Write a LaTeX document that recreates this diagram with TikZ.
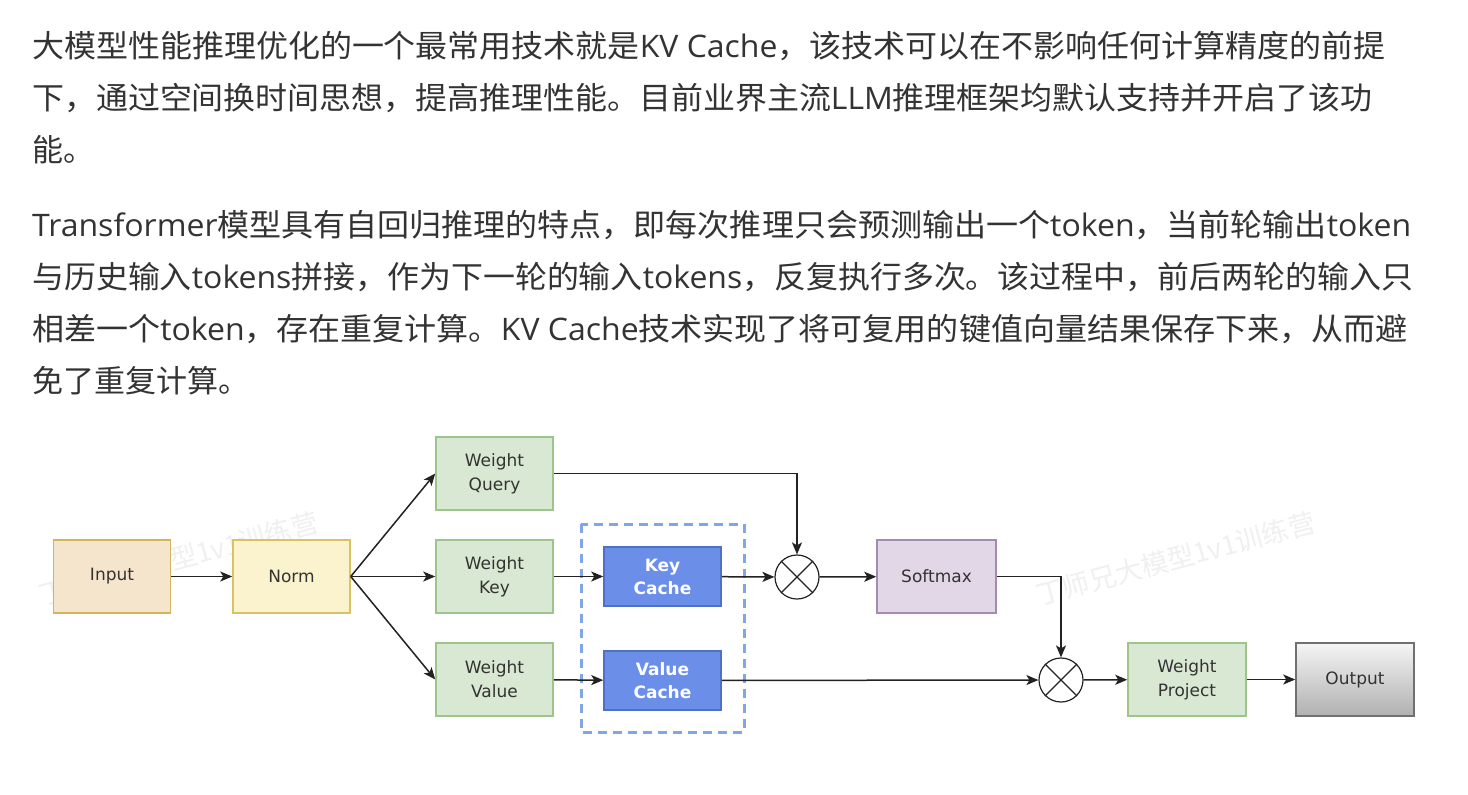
\documentclass[tikz,border=0pt]{standalone}
\usepackage{fontspec}
\usepackage{graphicx}
\setmainfont{Noto Sans CJK SC}
\newfontfamily\lat{Open Sans}
\newfontfamily\dv{DejaVu Sans}
\newfontfamily\wmfont{Noto Sans CJK SC}
\usetikzlibrary{arrows.meta}
\definecolor{txt}{HTML}{333333}
\definecolor{inFill}{HTML}{F5E5CD}
\definecolor{inDraw}{HTML}{D4B45A}
\definecolor{nmFill}{HTML}{FAF3CD}
\definecolor{nmDraw}{HTML}{D8C264}
\definecolor{gFill}{HTML}{D8E8D3}
\definecolor{gDraw}{HTML}{9DC48A}
\definecolor{bFill}{HTML}{6B8FE9}
\definecolor{bDraw}{HTML}{4F70C8}
\definecolor{dashC}{HTML}{7EA6E8}
\definecolor{pFill}{HTML}{E2D7E7}
\definecolor{pDraw}{HTML}{A58BB3}
\definecolor{oTop}{HTML}{F5F5F5}
\definecolor{oBot}{HTML}{B0B0B0}
\definecolor{oDraw}{HTML}{707070}
\definecolor{lineC}{HTML}{222222}
\begin{document}
\begin{tikzpicture}[x=1pt,y=-1pt,
  para/.style={anchor=base west, inner sep=0pt, text=txt, font=\fontsize{31}{31}\selectfont},
  box/.style={rectangle, line width=1.5pt, minimum width=117pt, minimum height=73pt, inner sep=0pt, align=center, text=txt, font=\dv\fontsize{17}{24}\selectfont},
  yel/.style={box, fill=inFill, draw=inDraw},
  nrm/.style={box, fill=nmFill, draw=nmDraw},
  grn/.style={box, fill=gFill, draw=gDraw},
  pur/.style={box, fill=pFill, draw=pDraw, minimum width=119pt},
  gry/.style={box, top color=oTop, bottom color=oBot, draw=oDraw, minimum width=118pt},
  cache/.style={box, fill=bFill, draw=bDraw, minimum height=59pt, text=white, font=\dv\bfseries\fontsize{17}{23}\selectfont},
  mult/.style={circle, draw=lineC, line width=1.2pt, fill=white, minimum size=44pt, inner sep=0pt},
  arr/.style={-{Stealth[length=12pt,width=10pt,inset=3pt]}, line width=1.5pt, draw=lineC},
  wm/.style={rotate=15, anchor=west, inner sep=0pt, text=black!6, font=\wmfont\fontsize{27}{27}\selectfont}
]
\useasboundingbox (0,0) rectangle (1468,795);
\fill[white] (0,0) rectangle (1468,795);

% paragraph text
\node[para] (l1) at (32,57) {\resizebox{1353pt}{\height}{大模型性能推理优化的一个最常用技术就是{\lat KV Cache}，该技术可以在不影响任何计算精度的前提}};
\node[para] (l2) at (32,109) {\resizebox{1340pt}{\height}{下，通过空间换时间思想，提高推理性能。目前业界主流{\lat LLM}推理框架均默认支持并开启了该功}};
\node[para] (l3) at (32,161) {能。};
\node[para] (l4) at (32,236) {\resizebox{1379pt}{\height}{{\lat Transformer}模型具有自回归推理的特点，即每次推理只会预测输出一个{\lat token}，当前轮输出{\lat token}}};
\node[para] (l5) at (32,288) {\resizebox{1381pt}{\height}{与历史输入{\lat tokens}拼接，作为下一轮的输入{\lat tokens}，反复执行多次。该过程中，前后两轮的输入只}};
\node[para] (l6) at (32,340) {\resizebox{1375pt}{\height}{相差一个{\lat token}，存在重复计算。{\lat KV Cache}技术实现了将可复用的键值向量结果保存下来，从而避}};
\node[para] (l7) at (32,392) {免了重复计算。};

% watermarks
\node[wm] (wm1) at (40,596) {丁师兄大模型1v1训练营};
\node[wm] (wm2) at (1037,596) {丁师兄大模型1v1训练营};

% dashed cache group
\draw[dashC, line width=3pt, dash pattern=on 9pt off 6pt] (581,524) rectangle (744,732);

% nodes
\node[yel] (input) at (112,576.5) {Input};
\node[nrm] (norm) at (291.5,576.5) {Norm};
\node[grn] (wq) at (494.5,473.5) {Weight\\Query};
\node[grn] (wk) at (494.5,576.5) {Weight\\Key};
\node[grn] (wv) at (494.5,679.5) {Weight\\Value};
\node[cache] (kc) at (662.5,576.5) {Key\\Cache};
\node[cache] (vc) at (662.5,680.5) {Value\\Cache};
\node[mult] (m1) at (797,577) {};
\node[pur] (sm) at (936.5,576.5) {Softmax};
\node[mult] (m2) at (1061,680) {};
\node[grn, minimum width=118pt] (wp) at (1187,679.5) {Weight\\Project};
\node[gry] (out) at (1355,679.5) {Output};

% multiply crosses
\draw[lineC, line width=1.1pt] (m1.north west) -- (m1.south east) (m1.north east) -- (m1.south west);
\draw[lineC, line width=1.1pt] (m2.north west) -- (m2.south east) (m2.north east) -- (m2.south west);

% connectors
\draw[arr] (input) -- (norm);
\draw[arr] (norm.east) -- (wq.west);
\draw[arr] (norm.east) -- (wk.west);
\draw[arr] (norm.east) -- (wv.west);
\draw[arr] (wq.east) -| (m1.north);
\draw[arr] (wk) -- (kc);
\draw[arr] (kc) -- (m1);
\draw[arr] (m1) -- (sm);
\draw[arr] (sm.east) -| (m2.north);
\draw[arr] (wv) -- (vc);
\draw[arr] (vc) -- (m2);
\draw[arr] (m2) -- (wp);
\draw[arr] (wp) -- (out);
\end{tikzpicture}
\end{document}
